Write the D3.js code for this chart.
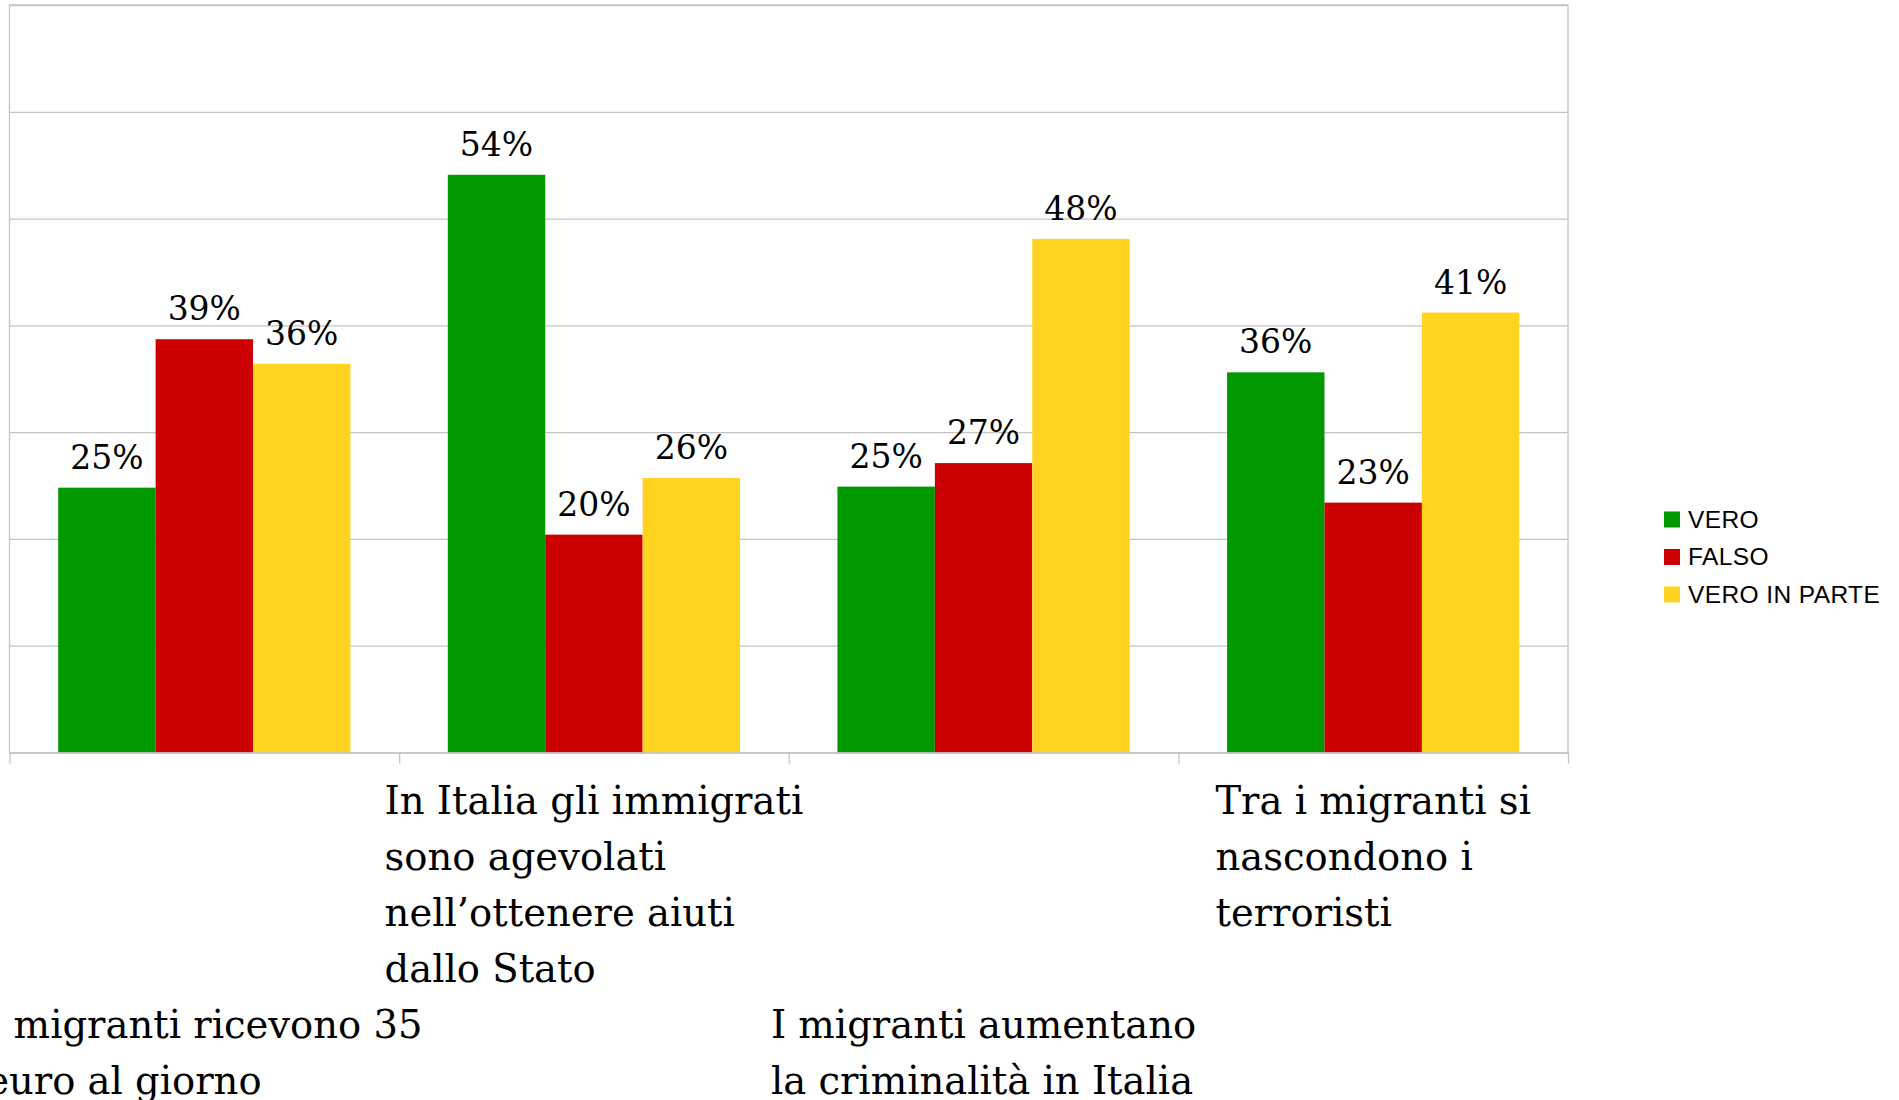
<!DOCTYPE html>
<html>
<head>
<meta charset="utf-8">
<script src="https://cdn.jsdelivr.net/npm/d3@7"></script>
<style>
  body { margin: 0; background: #fff; }
  svg { display: block; }
</style>
</head>
<body>
<div id="chart"></div>
<script>
// Data (bar heights estimated, labels rounded).
var categories = [
  "I migranti ricevono 35 euro al giorno",
  "In Italia gli immigrati sono agevolati nell’ottenere aiuti dallo Stato",
  "I migranti aumentano la criminalità in Italia",
  "Tra i migranti si nascondono i terroristi"
];
var categoryLines = [
  ["I migranti ricevono 35", "euro al giorno"],
  ["In Italia gli immigrati", "sono agevolati", "nell’ottenere aiuti", "dallo Stato"],
  ["I migranti aumentano", "la criminalità in Italia"],
  ["Tra i migranti si", "nascondono i", "terroristi"]
];
var seriesNames = ["VERO", "FALSO", "VERO IN PARTE"];
var vero = [24.8, 54.1, 24.9, 35.6];
var falso = [38.7, 20.4, 27.1, 23.4];
var veroInParte = [36.4, 25.7, 48.1, 41.2];
var gridTicks = [0, 10, 20, 30, 40, 50, 60, 70];

var width = 1899,
    height = 1100,
    plot = {left: 9.5, right: 1568, top: 5, bottom: 752.5};

var colors = d3.scaleOrdinal(seriesNames, ["#009900", "#cc0000", "#ffd320"]);

// Long table for the bars.
var allValues = [vero, falso, veroInParte];
var rows = [];
categories.forEach(function (c, i) {
  seriesNames.forEach(function (s, j) {
    rows.push({category: c, series: s, value: allValues[j][i]});
  });
});

var svg = d3.select("#chart")
  .append("svg")
  .attr("width", width)
  .attr("height", height);

var x0 = d3.scaleBand(categories, [plot.left, plot.right]).padding(0);
var x1 = d3.scaleBand(seriesNames, [x0.bandwidth() * 0.125, x0.bandwidth() * 0.875]).padding(0);
var xEdges = d3.scaleLinear([0, categories.length], [plot.left, plot.right]);
var y = d3.scaleLinear([0, 70], [plot.bottom, plot.top]);

// Gridlines.
var grid = svg.append("g")
  .attr("transform", `translate(${plot.left},0)`)
  .call(d3.axisLeft(y).tickValues(gridTicks).tickSize(-(plot.right - plot.left)).tickFormat(""));
grid.select(".domain").remove();
grid.selectAll("line").attr("stroke", "#c4c4c4").attr("stroke-width", 1.3);

// Frame (left, top, right).
svg.append("path")
  .attr("d", `M${plot.left},${plot.bottom}V${plot.top}H${plot.right}V${plot.bottom}`)
  .attr("fill", "none")
  .attr("stroke", "#c4c4c4")
  .attr("stroke-width", 1.3);

// Bars.
svg.append("g")
  .selectAll("rect")
  .data(rows)
  .join("rect")
    .attr("x", d => x0(d.category) + x1(d.series))
    .attr("y", d => y(d.value))
    .attr("width", x1.bandwidth())
    .attr("height", d => y(0) - y(d.value))
    .attr("fill", d => colors(d.series));

// Value labels.
svg.append("g")
  .selectAll("text")
  .data(rows)
  .join("text")
    .attr("x", d => x0(d.category) + x1(d.series) + x1.bandwidth() / 2)
    .attr("y", d => y(d.value) - 19)
    .attr("text-anchor", "middle")
    .style("font-family", "'DejaVu Serif', serif")
    .style("font-size", "33px")
    .attr("fill", "#000")
    .text(d => Math.round(d.value) + "%");

// X axis with ticks on the category edges.
var xAxis = svg.append("g")
  .attr("transform", `translate(0,${plot.bottom})`)
  .call(d3.axisBottom(xEdges).tickValues(d3.range(0, categories.length + 1)).tickSize(11).tickSizeOuter(0).tickFormat(""));
xAxis.selectAll("path, line").attr("stroke", "#c4c4c4").attr("stroke-width", 1.3);

// Category labels, staggered over two rows, left aligned in a centred block.
var lineHeight = 56;
var labels = svg.append("g")
  .selectAll("text")
  .data(categories)
  .join("text")
    .style("font-family", "'DejaVu Serif', serif")
    .style("font-size", "38.5px")
    .attr("fill", "#000")
    .attr("y", (d, i) => plot.bottom + 61 + (i % 2 === 0 ? 4 * lineHeight : 0));

labels.each(function (d, i) {
  var t = d3.select(this);
  var baseY = +t.attr("y");
  categoryLines[i].forEach(function (line, k) {
    t.append("tspan").attr("y", baseY + k * lineHeight).text(line);
  });
  var w = d3.max(t.selectAll("tspan").nodes(), n => n.getComputedTextLength());
  var left = x0(d) + x0.bandwidth() / 2 - w / 2;
  t.selectAll("tspan").attr("x", left);
});

// Legend.
var legend = svg.append("g")
  .selectAll("g")
  .data(seriesNames)
  .join("g")
    .attr("transform", (d, i) => `translate(1664,${527.5 + i * 37.5})`);

legend.append("rect")
  .attr("x", 0)
  .attr("y", -16)
  .attr("width", 16)
  .attr("height", 16)
  .attr("fill", d => colors(d));

legend.append("text")
  .attr("x", 24)
  .attr("y", 0)
  .style("font-family", "'Liberation Sans', Arial, sans-serif")
  .style("font-size", "24.5px")
  .style("letter-spacing", "0.4px")
  .attr("fill", "#000")
  .text(d => d);
</script>
</body>
</html>
